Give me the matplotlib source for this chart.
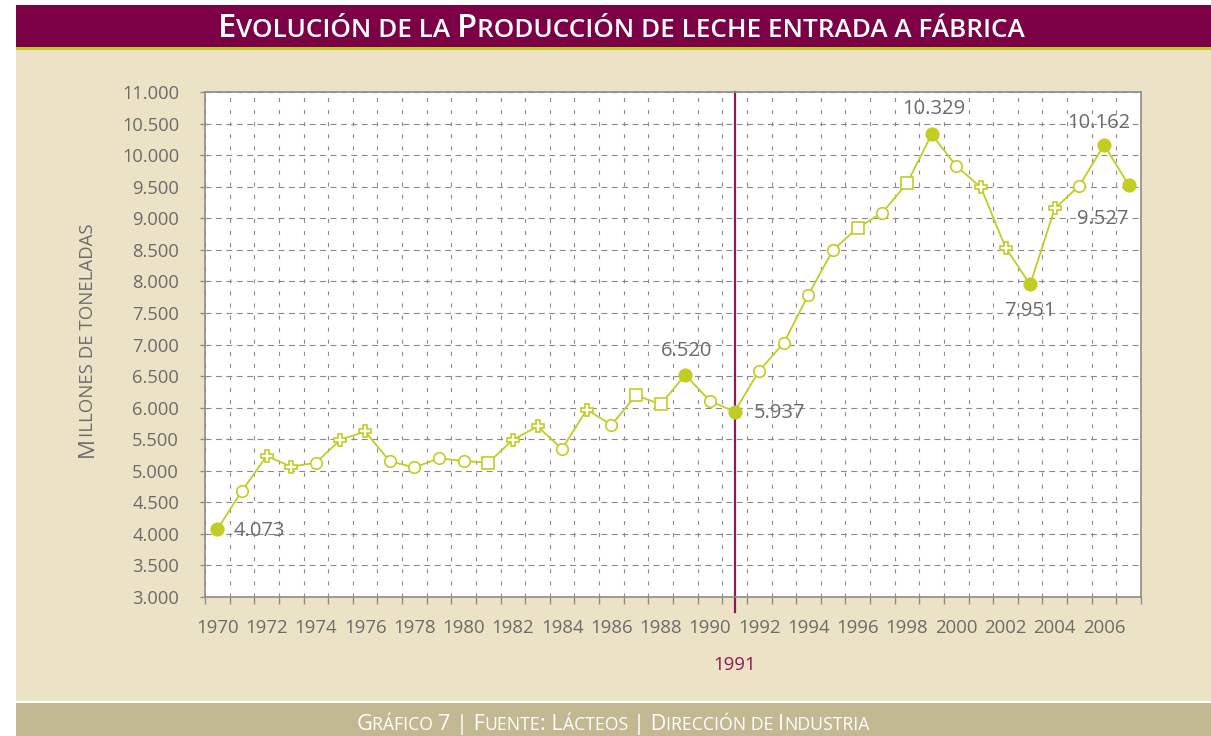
import matplotlib
matplotlib.use('Agg')
import matplotlib.pyplot as plt
from matplotlib.patches import Rectangle
from matplotlib.transforms import IdentityTransform
from matplotlib.ticker import FixedLocator, FuncFormatter, MultipleLocator

# ---------------- data ----------------
years = list(range(1970, 2008))
produccion = [4073, 4681, 5234, 5064, 5128, 5490, 5623, 5149, 5053, 5197,
              5154, 5128, 5490, 5702, 5346, 5970, 5726, 6195, 6053, 6520,
              6105, 5937, 6584, 7026, 7792, 8500, 8848, 9090, 9552, 10329,
              9828, 9490, 8536, 7951, 9156, 9516, 10162, 9527]
# marker style per year: F filled circle, o open circle, P open cross, s open square
marcadores = ['F', 'o', 'P', 'P', 'o', 'P', 'P', 'o', 'o', 'o',
              'o', 's', 'P', 'P', 'o', 'P', 'o', 's', 's', 'F',
              'o', 'F', 'o', 'o', 'o', 'o', 's', 'o', 's', 'F',
              'o', 'P', 'P', 'F', 'P', 'o', 'F', 'F']
años_etiquetados = [1970, 1989, 1991, 1999, 2003, 2006, 2007]
año_referencia = 1991
ticks_x = list(range(1970, 2007, 2))

titulo = "Evolución de la Producción de leche entrada a fábrica"
eje_y = "Millones de toneladas"
pie = "Gráfico 7 | Fuente: Lácteos | Dirección de Industria"

# ---------------- style ----------------
FONT = 'Open Sans'
GREEN = '#c2cd23'
TITLE_BG = '#7b0045'
BEIGE = '#ece2c6'
FOOTER_BG = '#c2b992'
MAGENTA = '#8c1a56'
GRAY_TXT = '#6b6b6b'
GRID = '#8a8a8a'
SPINE = '#8c8c8c'

plt.rcParams['font.family'] = [FONT, 'DejaVu Sans']
plt.rcParams['lines.scale_dashes'] = False

W, H = 1211, 736
fig = plt.figure(figsize=(W / 100, H / 100), dpi=100)
fig.patch.set_facecolor('white')


def rect(x0, y0, x1, y1, color):
    fig.patches.append(Rectangle((x0 / W, 1 - y1 / H), (x1 - x0) / W, (y1 - y0) / H,
                                 transform=fig.transFigure, facecolor=color,
                                 edgecolor='none', zorder=-5))


rect(16, 49, W, 701, BEIGE)
rect(16, 5, W, 46.5, TITLE_BG)
rect(16, 46.5, W, 49.5, GREEN)
rect(16, 703, W, H, FOOTER_BG)

# ---------------- axes ----------------
ax = fig.add_axes([205 / W, 1 - 597 / H, (1141 - 205) / W, (597 - 92) / H])
ax.set_zorder(2)
ax.set_facecolor('white')
ax.set_xlim(1969.5, 2007.5)
ax.set_ylim(3000, 11000)
ax.set_axisbelow(True)

ax.yaxis.set_major_locator(MultipleLocator(500))
ax.yaxis.set_major_formatter(FuncFormatter(lambda v, p: f"{v:,.0f}".replace(',', '.')))
ax.xaxis.set_major_locator(FixedLocator(ticks_x))
ax.xaxis.set_major_formatter(FuncFormatter(lambda v, p: f"{int(v)}"))
ax.xaxis.set_minor_locator(FixedLocator([y + 0.5 for y in range(1969, 2008)]))

ax.tick_params(axis='y', which='major', length=3.6, width=1, color=SPINE, pad=15,
               labelsize=13.2, labelcolor=GRAY_TXT)
ax.tick_params(axis='x', which='major', length=0, pad=15.5, labelsize=13.4, labelcolor=GRAY_TXT)
ax.tick_params(axis='x', which='minor', length=5, width=1, color=SPINE)

ax.grid(axis='y', which='major', linestyle=(0, (4.3, 3.2)), color=GRID, linewidth=0.8)
ax.grid(axis='x', which='minor', linestyle=(0, (2.9, 5.8)), color=GRID, linewidth=0.8)
ax.grid(axis='x', which='major', visible=False)

for s in ax.spines.values():
    s.set_color(SPINE)
    s.set_linewidth(1.2)

# reference vertical line
ax.axvline(año_referencia, ymin=-15 / 505, ymax=1, color=MAGENTA, lw=1.6,
           clip_on=False, zorder=2.5)
ax.annotate(str(año_referencia), xy=(año_referencia, 0), xycoords=('data', 'axes fraction'),
            xytext=(0, -68), textcoords='offset pixels', ha='center', va='center',
            color=MAGENTA, fontsize=13.4)

# line
ax.plot(years, produccion, color=GREEN, lw=1.3, zorder=3)

marker_style = {
    'F': dict(marker='o', ms=9, mfc=GREEN, mec=GREEN, mew=1.2),
    'o': dict(marker='o', ms=8.3, mfc='white', mec=GREEN, mew=1.2),
    's': dict(marker='s', ms=8.0, mfc='white', mec=GREEN, mew=1.2),
    'P': dict(marker='P', ms=9.3, mfc='white', mec=GREEN, mew=1.2),
}
for code, st in marker_style.items():
    xs = [y for y, m in zip(years, marcadores) if m == code]
    vs = [v for v, m in zip(produccion, marcadores) if m == code]
    ax.plot(xs, vs, linestyle='none', zorder=4, **st)

# value labels
label_pos = {
    1970: ((16, -2), 'left'),
    1989: ((1, 24), 'center'),
    1991: ((19, -1), 'left'),
    1999: ((2, 25), 'center'),
    2003: ((0, -27), 'center'),
    2006: ((-5, 22), 'center'),
    2007: ((-26, -34), 'center'),
}
for yr in años_etiquetados:
    v = produccion[years.index(yr)]
    off, ha = label_pos[yr]
    ax.annotate(f"{v:,.0f}".replace(',', '.'), xy=(yr, v), xytext=off,
                textcoords='offset pixels', ha=ha, va='center',
                color=GRAY_TXT, fontsize=14.5, zorder=5)


# ---------------- small caps helper ----------------
renderer = fig.canvas.get_renderer()


def _w(txt, size, weight):
    t1 = fig.text(0, 0, '|' + txt + '|', fontsize=size, weight=weight)
    t2 = fig.text(0, 0, '||', fontsize=size, weight=weight)
    w = t1.get_window_extent(renderer).width - t2.get_window_extent(renderer).width
    t1.remove()
    t2.remove()
    return w


def smallcaps(s, cx, cy, big, small, color, weight='normal', rotation=0, target=None):
    runs = []
    for ch in s:
        if ch == ' ':
            isbig = runs[-1][1] if runs else False
        else:
            isbig = not ch.islower()
        if runs and runs[-1][1] == isbig:
            runs[-1][0] += ch.upper()
        else:
            runs.append([ch.upper(), isbig])
    sizes = [big if b else small for _, b in runs]
    widths = [_w(r, sz, weight) for (r, _), sz in zip(runs, sizes)]
    if target:
        k = target / sum(widths)
        sizes = [sz * k for sz in sizes]
        widths = [_w(r, sz, weight) for (r, _), sz in zip(runs, sizes)]
    total = sum(widths)
    pos = -total / 2
    for (r, _), sz, w in zip(runs, sizes, widths):
        if rotation == 0:
            x, y = cx + pos, cy
        else:
            x, y = cx, cy + pos
        fig.text(x, y, r, fontsize=sz, weight=weight, color=color, ha='left',
                 va='baseline', rotation=rotation, rotation_mode='anchor',
                 transform=IdentityTransform(), zorder=3)
        pos += w


smallcaps(titulo, 621, H - 37, 21, 16.8, 'white', weight='semibold', target=812)
smallcaps(eje_y, 93, H - 340, 12.8, 10.8, '#6d6d6d', rotation=90, target=234)
smallcaps(pie, 613, H - 730, 12.5, 10.2, 'white', target=510)

fig.savefig('out.png', dpi=100, facecolor='white')
